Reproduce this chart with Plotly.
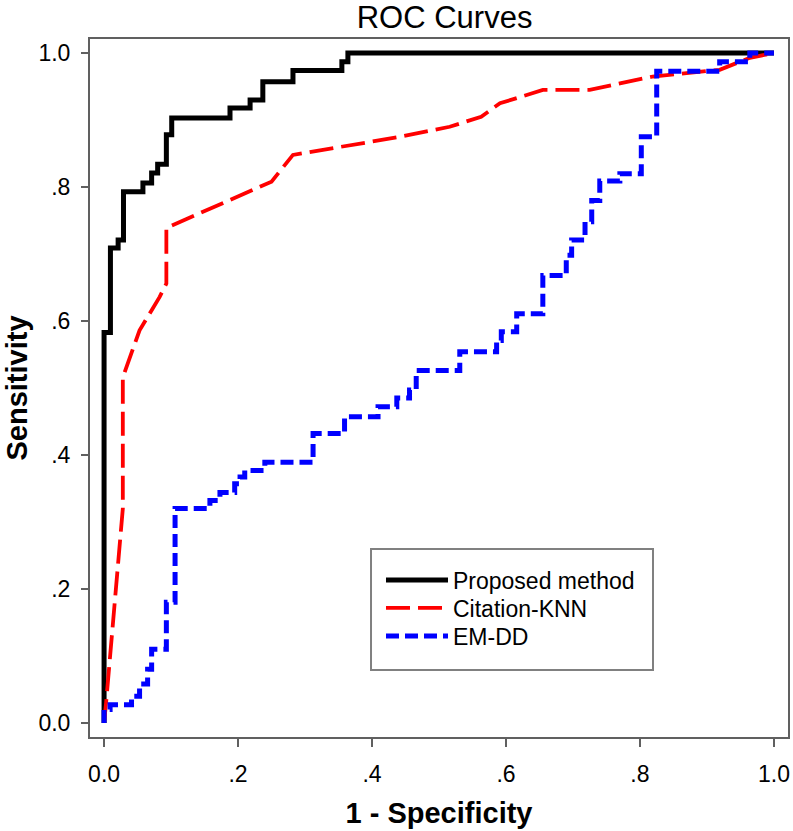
import plotly.graph_objects as go

# ---- data (1 - specificity, sensitivity) ----
proposed_fpr = [0.0, 0.0, 0.0095, 0.021, 0.029, 0.058, 0.071, 0.080, 0.093, 0.101,
                0.188, 0.218, 0.237, 0.282, 0.355, 0.364, 1.0]
proposed_tpr = [0.0, 0.583, 0.709, 0.721, 0.793, 0.806, 0.821, 0.834, 0.878, 0.903,
                0.918, 0.930, 0.957, 0.974, 0.987, 1.0, 1.0]

knn_fpr = [0.0, 0.003, 0.028, 0.028, 0.053, 0.083, 0.093, 0.093, 0.25, 0.282,
           0.442, 0.516, 0.563, 0.591, 0.655, 0.725, 0.819, 0.919, 0.964, 1.0]
knn_tpr = [0.0, 0.03, 0.32, 0.516, 0.586, 0.636, 0.656, 0.739, 0.808, 0.848,
           0.875, 0.890, 0.905, 0.925, 0.945, 0.945, 0.965, 0.975, 0.993, 1.0]

emdd_fpr = [0.0, 0.0, 0.009, 0.041, 0.053, 0.065, 0.071, 0.093, 0.106, 0.158,
            0.173, 0.195, 0.203, 0.21, 0.24, 0.312, 0.359, 0.409, 0.437, 0.456,
            0.466, 0.531, 0.586, 0.593, 0.616, 0.655, 0.69, 0.698, 0.718, 0.728,
            0.74, 0.77, 0.802, 0.825, 0.919, 0.964, 1.0]
emdd_tpr = [0.0, 0.02, 0.027, 0.04, 0.058, 0.08, 0.11, 0.18, 0.320, 0.332,
            0.344, 0.357, 0.367, 0.377, 0.389, 0.432, 0.457, 0.472, 0.485, 0.497,
            0.526, 0.554, 0.571, 0.584, 0.611, 0.668, 0.698, 0.721, 0.748, 0.78,
            0.809, 0.820, 0.875, 0.973, 0.987, 1.0, 1.0]

series_names = ["Proposed method", "Citation-KNN", "EM-DD"]
tick_vals = [0.0, 0.2, 0.4, 0.6, 0.8, 1.0]
tick_text = ["0.0", ".2", ".4", ".6", ".8", "1.0"]

FONT = "Liberation Sans, Arial, sans-serif"
W, H = 793, 831

fig = go.Figure()
fig.add_trace(go.Scatter(x=proposed_fpr, y=proposed_tpr, mode="lines", name=series_names[0],
                         legend="legend",
                         line=dict(color="black", width=5, shape="hv")))
fig.add_trace(go.Scatter(x=knn_fpr, y=knn_tpr, mode="lines", name=series_names[1],
                         legend="legend2",
                         line=dict(color="#ff0000", width=3.8, dash="24px,8px")))
fig.add_trace(go.Scatter(x=emdd_fpr, y=emdd_tpr, mode="lines", name=series_names[2],
                         legend="legend3",
                         line=dict(color="#0000ff", width=5, dash="13px,6px", shape="hv")))

axis_common = dict(
    range=[-0.021, 1.021], tickvals=tick_vals, ticktext=tick_text, automargin=False,
    showgrid=False, zeroline=False, showline=True, linecolor="#606060", linewidth=2,
    mirror=True, ticks="outside", tickcolor="#606060", tickwidth=2,
    tickfont=dict(family=FONT, size=23, color="black"),
)

# legend frame (white box above the curves; legend entries sit on top)
fig.add_shape(type="rect", xref="paper", yref="paper",
              x0=0.4026, x1=0.8066, y0=0.0960, y1=0.2693,
              fillcolor="white", line=dict(color="#808080", width=2), layer="above")


def legend_row(yc):
    return dict(x=0.4169, y=yc, xanchor="left", yanchor="middle",
                bgcolor="rgba(0,0,0,0)", borderwidth=0,
                font=dict(family=FONT, size=23, color="black"), itemwidth=62)


fig.update_layout(
    width=W, height=H,
    margin=dict(l=90, r=5, t=39, b=94, autoexpand=False),
    plot_bgcolor="white", paper_bgcolor="white",
    title=dict(text="ROC Curves", x=0.508, xref="paper", xanchor="center",
               y=1 - 17 / H, yref="container", yanchor="middle",
               font=dict(family=FONT, size=31, color="black")),
    xaxis=dict(**axis_common, ticklen=8, ticklabelstandoff=7,
               title=dict(text="<b>1 - Specificity</b>", standoff=17,
                          font=dict(family=FONT, size=29, color="black"))),
    yaxis=dict(**axis_common, ticklen=7, ticklabelstandoff=6),
    legend=legend_row(0.2249),
    legend2=legend_row(0.1848),
    legend3=legend_row(0.1447),
    showlegend=True,
    annotations=[dict(text="<b>Sensitivity</b>", xref="paper", yref="paper",
                      x=-0.1053, y=0.5, xanchor="center", yanchor="middle",
                      textangle=-90, showarrow=False,
                      font=dict(family=FONT, size=29, color="black"))],
)

fig.write_html("out.html",
               config={"displayModeBar": False},
               post_script="document.body.style.margin='0';"
                           "document.body.style.overflow='hidden';")
